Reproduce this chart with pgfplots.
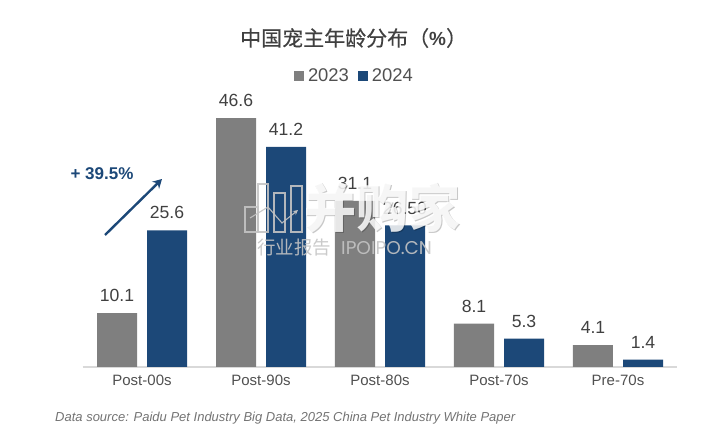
\documentclass[border=0pt]{standalone}
\usepackage{pgfplots}
\pgfplotsset{compat=1.18}
\usepackage{fontspec}
\setmainfont{Liberation Sans}
\newfontfamily\cjk{Noto Sans CJK SC}
\newfontfamily\cjkt{Noto Sans CJK SC}[FakeBold=0.4]
\newfontfamily\wmfont{Poppins}
\usetikzlibrary{arrows.meta}
\definecolor{cgray}{HTML}{7F7F7F}
\definecolor{cblue}{HTML}{1C4878}
\definecolor{ctext}{HTML}{404040}
\definecolor{ctick}{HTML}{505050}
\definecolor{wmg}{HTML}{C4C4C4}
\begin{document}
\begin{tikzpicture}[x=1pt,y=1pt]
\path[use as bounding box] (0,0) rectangle (702,436);
\begin{axis}[
  at={(82.5pt,69pt)},anchor=south west,
  scale only axis,width=595pt,height=320.4pt,
  xmin=-0.5,xmax=4.5,ymin=0,ymax=60,
  clip=false,
  axis y line=none,
  axis x line=bottom,
  axis line style={draw=black!15,line width=1.3pt,-},
  xtick={0,1,2,3,4},
  xticklabels={Post-00s,Post-90s,Post-80s,Post-70s,Pre-70s},
  major tick length=0pt,
  tick style={draw=none},
  x tick label style={font=\fontsize{15}{15}\selectfont,text=ctick,yshift=-4pt},
  ybar=0pt,
  bar width=40pt,
  point meta=explicit symbolic,
  nodes near coords,
  every node near coord/.append style={font=\fontsize{17.6}{18}\selectfont,text=ctext,inner sep=0pt,yshift=11pt},
  legend style={draw=none,fill=none,at={(211.5pt,291pt)},anchor=west,legend columns=2,
    font=\fontsize{18.4}{18}\selectfont,text=ctick,inner sep=0pt,outer sep=0pt,
    /tikz/every even column/.append style={column sep=7pt},
    /tikz/every odd column/.append style={column sep=2pt}},
  legend cell align=left,
  legend image code/.code={\fill[#1] (0pt,-5pt) rectangle (10pt,5pt);},
]
\addplot[fill=cgray,draw=none,bar shift=-25pt] coordinates {
 (0,10.1)[10.1] (1,46.6)[46.6] (2,31.1)[31.1] (3,8.1)[8.1] (4,4.1)[4.1]};
\addlegendentry{2023}
\addplot[fill=cblue,draw=none,bar shift=25pt] coordinates {
 (0,25.6)[25.6] (1,41.2)[41.2] (2,26.5)[26.50] (3,5.3)[5.3] (4,1.4)[1.4]};
\addlegendentry{2024}
\end{axis}
\node[font=\cjkt\fontsize{21}{21}\selectfont,text=ctext,inner sep=0pt,anchor=west] at (240,398) {中国宠主年龄分布（{\bfseries\rmfamily\fontsize{19}{19}\selectfont\%}）};
\node[font=\bfseries\fontsize{17}{17}\selectfont,text=cblue,inner sep=0pt] at (102,262) {+ 39.5\%};
\draw[cblue,line width=2.4pt,-{Stealth[length=9pt,width=10pt]}] (105,201) -- (162,257);
\node[font=\itshape\fontsize{13}{13}\selectfont,text=black!55,anchor=west,inner sep=0pt] at (55,18) {Data source: Paidu Pet Industry Big Data, 2025 China Pet Industry White Paper};
% watermark
\node[font=\cjk\bfseries\fontsize{52}{52}\selectfont,text=black,opacity=0.22,anchor=center,inner sep=0pt] at (383,227) {并购家};
\node[font=\cjk\bfseries\fontsize{52}{52}\selectfont,text=white,opacity=0.85,anchor=center,inner sep=0pt] at (382,228) {并购家};
\node[font=\cjk\fontsize{18.5}{19}\selectfont,text=wmg,opacity=0.9,anchor=west,inner sep=0pt] at (257,188) {行业报告};
\node[font=\wmfont\fontsize{18.5}{19}\selectfont,text=wmg,opacity=0.9,anchor=west,inner sep=0pt] at (341,188) {IPOIPO.CN};
\begin{scope}[draw=wmg,opacity=0.9]
  \draw[line width=1.7pt] (245,204) rectangle (258,229);
  \draw[line width=1.7pt] (258,204) rectangle (268,252);
  \draw[line width=1.7pt] (274,204) rectangle (285,243);
  \draw[line width=1.7pt] (291,204) rectangle (302,250);
  \draw[line width=1.1pt,-{Stealth[length=5pt,width=5pt]}] (250,218) -- (268,229) -- (282,213) -- (298,226);
\end{scope}
\end{tikzpicture}
\end{document}
